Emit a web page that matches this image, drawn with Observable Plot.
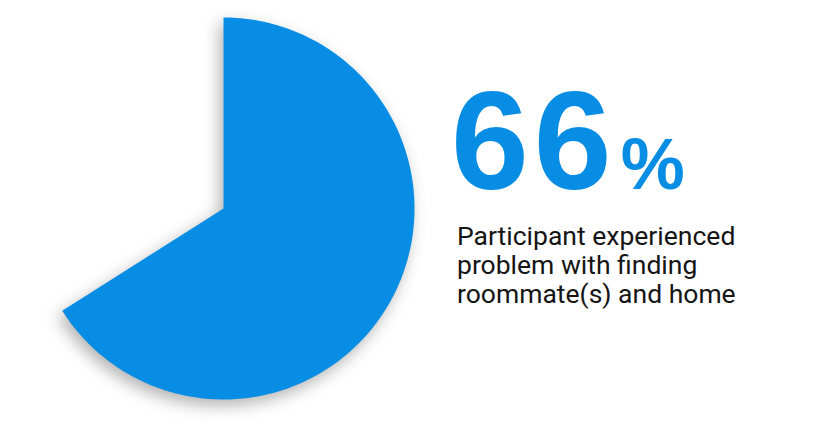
<!DOCTYPE html>
<html>
<head>
<meta charset="utf-8">
<script src="https://cdn.jsdelivr.net/npm/d3@7"></script>
<script src="https://cdn.jsdelivr.net/npm/@observablehq/plot@0.6"></script>
<style>
  html, body { margin: 0; padding: 0; background: #fff; }
  #wrap { position: relative; width: 813px; height: 433px; overflow: hidden; }
  .big { position: absolute; left: 451px; top: 71px; font-family: "Liberation Sans", Arial, sans-serif; font-weight: 700; color: #078de3; white-space: nowrap; line-height: 1; }
  .big .num { font-size: 140px; letter-spacing: 5px; }
  .big .pct { font-size: 72px; margin-left: 4px; }
  .desc { position: absolute; left: 457px; top: 221px; font-family: Roboto, sans-serif; font-size: 26.5px; line-height: 29px; color: #151515; }
</style>
</head>
<body>
<div id="wrap"></div>
<script>
const shareLabel = "Participant experienced problem with finding roommate(s) and home";
const shareValue = 66; // percent
const descLines = ["Participant experienced", "problem with finding", "roommate(s) and home"];
const sliceColor = "#078de3";

// build slice outline from the value (start at 12 o'clock, clockwise)
const endAngle = shareValue / 100 * 2 * Math.PI;
const steps = 240;
const pts = [{a: 0, r: 0}];
for (let i = 0; i <= steps; i++) pts.push({a: endAngle * i / steps, r: 1});
pts.push({a: 0, r: 0});
const slice = pts.map(p => ({x: p.r * Math.sin(p.a), y: p.r * Math.cos(p.a)}));

const chart = Plot.plot({
  width: 813,
  height: 433,
  marginLeft: 32,
  marginRight: 399,
  marginTop: 17,
  marginBottom: 34,
  x: {domain: [-1, 1], axis: null},
  y: {domain: [-1, 1], axis: null},
  marks: [
    Plot.line(slice, {x: "x", y: "y", fill: sliceColor, stroke: "none", curve: "linear"})
  ]
});
chart.querySelectorAll("g[aria-label='line'] path").forEach(p => p.style.filter = "drop-shadow(-4px 6px 8px rgba(0,0,0,0.3))");
const wrap = document.getElementById("wrap");
wrap.appendChild(chart);

const big = document.createElement("div");
big.className = "big";
big.innerHTML = `<span class="num">${shareValue}</span><span class="pct">%</span>`;
wrap.appendChild(big);

const desc = document.createElement("div");
desc.className = "desc";
desc.innerHTML = descLines.join("<br>");
wrap.appendChild(desc);
</script>
</body>
</html>
